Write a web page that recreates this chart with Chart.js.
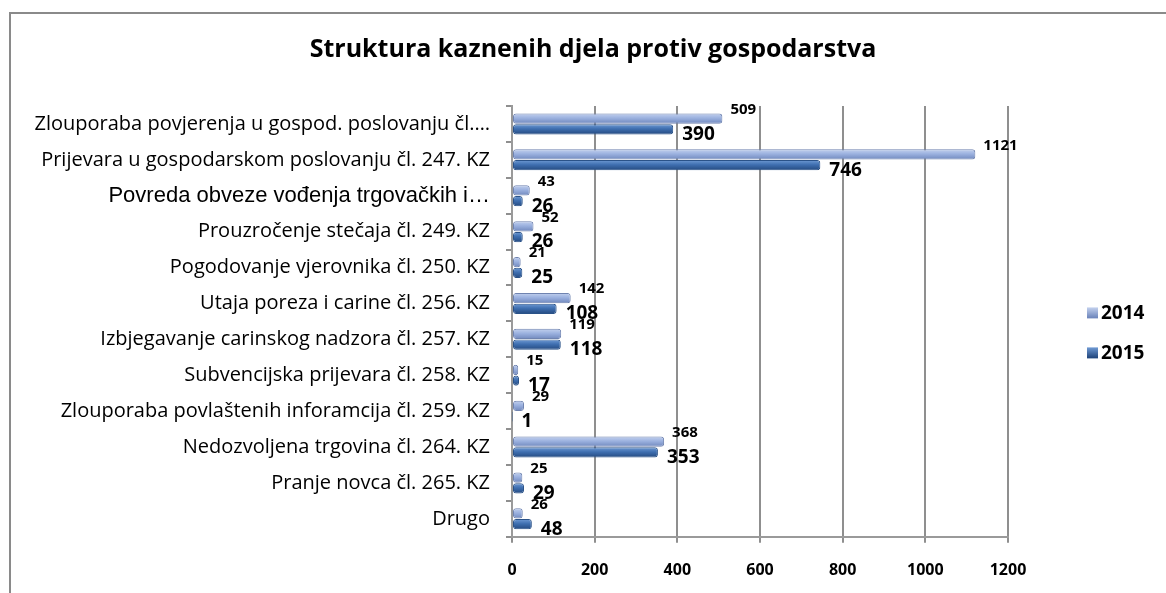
<!DOCTYPE html>
<html>
<head>
<meta charset="utf-8">
<script src="https://cdn.jsdelivr.net/npm/chart.js@4"></script>
<style>
  html, body { margin: 0; padding: 0; background: #fff; overflow: hidden; }
  #frame {
    position: absolute; left: 9px; top: 12px; width: 1170px; height: 600px;
    border: 2px solid #8a8a8a; box-sizing: border-box;
  }
  #wrap { position: absolute; left: 10px; top: 13px; width: 1166px; height: 585px; }
</style>
</head>
<body>
<div id="frame"></div>
<div id="wrap"><canvas id="chart"></canvas></div>
<script>
const chartTitle = "Struktura kaznenih djela protiv gospodarstva";
const categories = [
    "Zlouporaba povjerenja u gospod. poslovanju čl.…",
    "Prijevara u gospodarskom poslovanju čl. 247. KZ",
    "Povreda obveze vođenja trgovačkih i…",
    "Prouzročenje stečaja čl. 249. KZ",
    "Pogodovanje vjerovnika čl. 250. KZ",
    "Utaja poreza i carine čl. 256. KZ",
    "Izbjegavanje carinskog nadzora čl. 257. KZ",
    "Subvencijska prijevara čl. 258. KZ",
    "Zlouporaba povlaštenih inforamcija čl. 259. KZ",
    "Nedozvoljena trgovina čl. 264. KZ",
    "Pranje novca čl. 265. KZ",
    "Drugo"
];
const values2014 = [509, 1121, 43, 52, 21, 142, 119, 15, 29, 368, 25, 26];
const values2015 = [390, 746, 26, 26, 25, 108, 118, 17, 1, 353, 29, 48];
const xTicks = [0, 200, 400, 600, 800, 1000, 1200];

const FONT = "'Open Sans', Lato, sans-serif";
const CAT = 0.6;
const BAR = 0.95;

// cylinder-ish shading: light top edge, darker bottom edge
function barGradient(c, stops) {
    const chart = c.chart;
    const ys = chart.scales.y;
    if (c.type !== "data" || !ys || ys.top === undefined) return stops[1];
    const cw = (ys.bottom - ys.top) / categories.length;
    const bw = cw * CAT * BAR / 2;
    const yc = ys.getPixelForValue(c.dataIndex) + (c.datasetIndex === 0 ? -cw * CAT / 4 : cw * CAT / 4);
    const g = chart.ctx.createLinearGradient(0, yc - bw / 2, 0, yc + bw / 2);
    g.addColorStop(0, stops[0]);
    g.addColorStop(0.45, stops[1]);
    g.addColorStop(1, stops[2]);
    return g;
}

const lightStops = ["#c3d1ee", "#9bb1df", "#7088bd"];
const darkStops = ["#6f9ad4", "#3f6fb0", "#24497f"];

const valueLabels = {
    id: "valueLabels",
    afterDatasetsDraw(chart) {
        const ctx = chart.ctx;
        ctx.save();
        ctx.fillStyle = "#000";
        ctx.textBaseline = "middle";
        ctx.textAlign = "left";
        chart.data.datasets.forEach((ds, di) => {
            const meta = chart.getDatasetMeta(di);
            meta.data.forEach((bar, i) => {
                if (di === 0) {
                    ctx.font = "bold 15px " + FONT;
                    ctx.fillText(ds.data[i], bar.x + 8, bar.y - 9);
                } else {
                    ctx.font = "bold 19px " + FONT;
                    ctx.fillText(ds.data[i], bar.x + 9, bar.y + 5);
                }
            });
        });
        ctx.restore();
    }
};

// title is centred on the whole frame, not on the plot
const frameTitle = {
    id: "frameTitle",
    afterDraw(chart) {
        const ctx = chart.ctx;
        ctx.save();
        ctx.font = "bold 25px " + FONT;
        ctx.fillStyle = "#000";
        ctx.textAlign = "center";
        ctx.textBaseline = "middle";
        ctx.fillText(chartTitle, chart.width / 2, 37);
        ctx.restore();
    }
};

// legend sits at the far right, away from the plot, like the original
const sideLegend = {
    id: "sideLegend",
    afterDraw(chart) {
        const ctx = chart.ctx;
        const stops = [lightStops, darkStops];
        const midY = (chart.chartArea.top + chart.chartArea.bottom) / 2 + 11;
        ctx.save();
        ctx.font = "bold 19px " + FONT;
        ctx.textBaseline = "middle";
        chart.data.datasets.forEach((ds, di) => {
            const y = midY + (di - 0.5) * 40;
            const x = chart.chartArea.right + 79;
            const g = ctx.createLinearGradient(0, y - 5, 0, y + 5);
            g.addColorStop(0, stops[di][0]);
            g.addColorStop(1, stops[di][2]);
            ctx.fillStyle = g;
            ctx.fillRect(x, y - 5, 11, 11);
            ctx.fillStyle = "#000";
            ctx.fillText(ds.label, x + 14, y + 1);
        });
        ctx.restore();
    }
};

const ctx = document.getElementById("chart").getContext("2d");

const chart = new Chart(ctx, {
    type: "bar",
    data: {
        labels: categories,
        datasets: [
            {
                label: "2014",
                data: values2014,
                backgroundColor: (c) => barGradient(c, lightStops),
                borderColor: "#6f83b0",
                borderWidth: 1,
                borderRadius: 3,
                borderSkipped: false,
                categoryPercentage: CAT,
                barPercentage: BAR,
            },
            {
                label: "2015",
                data: values2015,
                backgroundColor: (c) => barGradient(c, darkStops),
                borderColor: "#2a5288",
                borderWidth: 1,
                borderRadius: 3,
                borderSkipped: false,
                categoryPercentage: CAT,
                barPercentage: BAR,
            },
        ],
    },
    options: {
        indexAxis: "y",
        responsive: true,
        maintainAspectRatio: false,
        animation: false,
        layout: { padding: { left: 10, right: 168, top: 93, bottom: 0 } },
        scales: {
            x: {
                min: 0,
                max: 1200,
                afterBuildTicks: (s) => { s.ticks = xTicks.map((v) => ({ value: v })); },
                grid: {
                    color: "#8f8f8f",
                    lineWidth: 2,
                    tickLength: 6,
                },
                border: { color: "#9a9a9a", width: 2 },
                ticks: {
                    color: "#000",
                    padding: 18,
                    callback: (v) => String(v),
                    font: { family: FONT, size: 16, weight: "bold" },
                },
            },
            y: {
                afterFit: (s) => { s.width = 492; },
                grid: {
                    drawOnChartArea: false,
                    color: "#8f8f8f",
                    lineWidth: 2,
                    tickLength: 6,
                },
                border: { color: "#9a9a9a", width: 2 },
                ticks: {
                    color: "#000",
                    padding: 16,
                    autoSkip: false,
                    font: (c) => c.index === 2
                        ? { family: "'Liberation Sans', Arial, sans-serif", size: 22 }
                        : { family: FONT, size: 20 },
                },
            },
        },
        plugins: {
            title: { display: false },
            legend: { display: false },
            tooltip: { enabled: false },
        },
    },
    plugins: [valueLabels, frameTitle, sideLegend],
});
</script>
</body>
</html>
